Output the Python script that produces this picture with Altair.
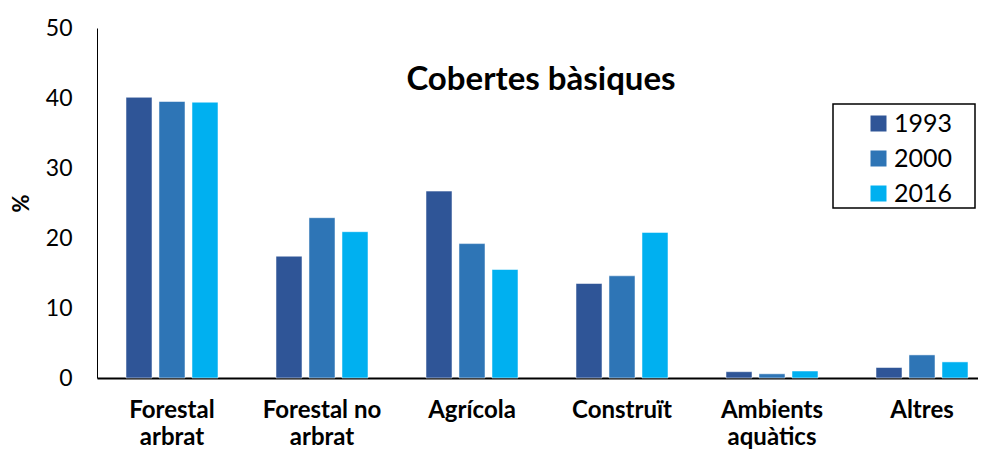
import json
import altair as alt
import pandas as pd

categories = ["Forestal arbrat", "Forestal no arbrat", "Agrícola", "Construït", "Ambients aquàtics", "Altres"]
label_lines = [["Forestal", "arbrat"], ["Forestal no", "arbrat"], ["Agrícola"], ["Construït"], ["Ambients", "aquàtics"], ["Altres"]]
years = ["1993", "2000", "2016"]
v1993 = [40.1, 17.4, 26.7, 13.5, 0.9, 1.5]
v2000 = [39.5, 22.9, 19.2, 14.6, 0.6, 3.3]
v2016 = [39.4, 20.9, 15.5, 20.8, 1.0, 2.3]
colors = ["#2F5597", "#2E75B6", "#00B0F0"]
title_text = "Cobertes bàsiques"
y_ticks = [0, 10, 20, 30, 40, 50]

rows = []
for yr, vals in zip(years, [v1993, v2000, v2016]):
    for c, v in zip(categories, vals):
        rows.append({"cat": c, "year": yr, "value": v})
df = pd.DataFrame(rows)

label_map = json.dumps(dict(zip(categories, label_lines)), ensure_ascii=False)

FONT = "Lato"

bars = alt.Chart(df).mark_bar(stroke="white", strokeWidth=1, strokeOpacity=0.5).encode(
    x=alt.X("cat:N", sort=categories,
            scale=alt.Scale(range=[0, 900], paddingInner=0, paddingOuter=0),
            axis=alt.Axis(title=None, labelAngle=0, ticks=False, domainColor="black", domainWidth=2,
                          labelFont=FONT, labelFontWeight="bold", labelFontSize=24, labelColor="black",
                          labelLineHeight=27, labelPadding=20, labelExpr=f"{label_map}[datum.label]")),
    xOffset=alt.XOffset("year:N", sort=years, scale=alt.Scale(paddingInner=0.212, paddingOuter=0.879)),
    y=alt.Y("value:Q", scale=alt.Scale(domain=[0, 50], nice=False),
            axis=alt.Axis(title="%", values=y_ticks, grid=False, ticks=False, domainColor="black", domainWidth=1,
                          labelFont=FONT, labelFontSize=23, labelColor="black", labelPadding=25,
                          titleFont=FONT, titleFontSize=22, titleFontWeight="bold", titleColor="black",
                          titleX=-76, titleY=175, titleBaseline="middle", titleAngle=270)),
    color=alt.Color("year:N", sort=years, scale=alt.Scale(domain=years, range=colors),
                    legend=alt.Legend(title=None, orient="none", legendX=769, legendY=83,
                                      padding=0,
                                      symbolType="square", symbolSize=256, symbolStrokeWidth=0,
                                      labelOffset=3,
                                      labelFont=FONT, labelFontSize=25, labelColor="black",
                                      rowPadding=9)),
)

legend_box = alt.Chart(pd.DataFrame({"box": [1]})).mark_rect(
    fill=None, stroke="black", strokeWidth=1.5
).encode(x=alt.value(736), x2=alt.value(878), y=alt.value(76), y2=alt.value(180))

title = alt.Chart(pd.DataFrame({"t": [title_text]})).mark_text(
    font=FONT, fontSize=33, fontWeight="bold", color="black", align="center", baseline="alphabetic"
).encode(text="t:N", x=alt.value(444), y=alt.value(62))

chart = alt.layer(bars, legend_box, title).properties(
    width=881, height=350,
    autosize=alt.AutoSizeParams(type="none"),
    padding={"left": 89, "top": 20, "right": 0, "bottom": 71},
).configure_view(stroke=None)

chart.save("out.html", embed_options={"renderer": "svg", "actions": False})
